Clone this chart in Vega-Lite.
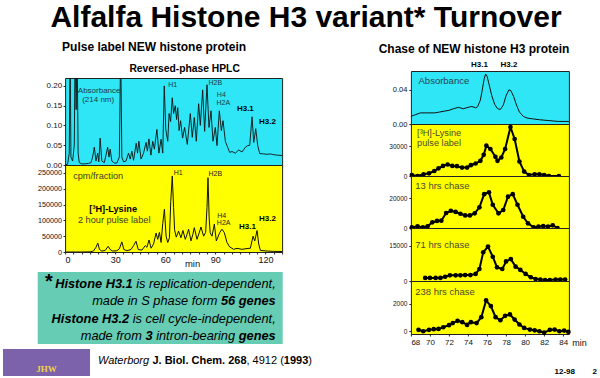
{
 "$schema": "https://vega.github.io/schema/vega-lite/v6.json",
 "background": "white",
 "padding": {"left": 3, "top": 3, "right": 0, "bottom": 0},
 "config": {
  "font": "Liberation Sans",
  "view": {"stroke": "#222", "strokeWidth": 1},
  "axis": {"labelFont": "Liberation Sans", "labelFontSize": 8.5, "labelColor": "#111", "tickColor": "#222", "domain": false, "grid": false, "tickSize": 2, "labelPadding": 2, "labelOverlap": false, "titleFont": "Liberation Sans", "titleFontWeight": "normal", "titleFontSize": 9, "titleColor": "#111"},
  "title": {"font": "Liberation Sans", "color": "#000"}
 },
 "datasets": {
  "absL": [{"m":0,"v":0},{"m":1.5,"v":0.002},{"m":2.5,"v":0.03},{"m":3,"v":0.3},{"m":3.5,"v":0.02},{"m":4.5,"v":0.01},{"m":5.5,"v":0.05},{"m":6,"v":0.3},{"m":6.6,"v":0.14},{"m":7.2,"v":0.3},{"m":7.8,"v":0.03},{"m":8.5,"v":0.006},{"m":10,"v":0.003},{"m":12,"v":0.003},{"m":14,"v":0.004},{"m":15.5,"v":0.006},{"m":16.5,"v":0.02},{"m":17.5,"v":0.045},{"m":18.5,"v":0.01},{"m":19.5,"v":0.03},{"m":20.2,"v":0.008},{"m":21,"v":0.068},{"m":22,"v":0.01},{"m":23.5,"v":0.006},{"m":24.5,"v":0.025},{"m":25.5,"v":0.045},{"m":26.3,"v":0.02},{"m":27,"v":0.04},{"m":28,"v":0.01},{"m":29.5,"v":0.005},{"m":31,"v":0.005},{"m":32.5,"v":0.02},{"m":33.3,"v":0.3},{"m":34,"v":0.02},{"m":35,"v":0.008},{"m":36.5,"v":0.01},{"m":38,"v":0.03},{"m":39,"v":0.015},{"m":40,"v":0.035},{"m":41,"v":0.012},{"m":42.6,"v":0.055},{"m":43.4,"v":0.03},{"m":44.2,"v":0.06},{"m":45.5,"v":0.015},{"m":47,"v":0.03},{"m":48.5,"v":0.057},{"m":49.3,"v":0.035},{"m":50.2,"v":0.066},{"m":51.4,"v":0.025},{"m":52.5,"v":0.06},{"m":53.5,"v":0.04},{"m":55,"v":0.09},{"m":56.2,"v":0.03},{"m":57.5,"v":0.065},{"m":58.5,"v":0.03},{"m":59.4,"v":0.2},{"m":60.3,"v":0.09},{"m":61.5,"v":0.06},{"m":62.3,"v":0.13},{"m":63.2,"v":0.11},{"m":64.2,"v":0.17},{"m":65,"v":0.13},{"m":66,"v":0.15},{"m":66.8,"v":0.115},{"m":67.5,"v":0.145},{"m":68.3,"v":0.087},{"m":69.2,"v":0.112},{"m":70.4,"v":0.068},{"m":71.6,"v":0.095},{"m":73.2,"v":0.052},{"m":75,"v":0.13},{"m":76.2,"v":0.07},{"m":77.4,"v":0.12},{"m":78.6,"v":0.06},{"m":80,"v":0.155},{"m":81,"v":0.1},{"m":82.4,"v":0.19},{"m":83.6,"v":0.085},{"m":85,"v":0.203},{"m":86.2,"v":0.095},{"m":87.4,"v":0.137},{"m":88.6,"v":0.06},{"m":90,"v":0.095},{"m":91,"v":0.049},{"m":92.4,"v":0.137},{"m":93.6,"v":0.087},{"m":94.6,"v":0.112},{"m":96,"v":0.06},{"m":97,"v":0.049},{"m":98.6,"v":0.032},{"m":100,"v":0.034},{"m":102,"v":0.03},{"m":104,"v":0.038},{"m":106,"v":0.033},{"m":108,"v":0.045},{"m":109.4,"v":0.049},{"m":110.6,"v":0.05},{"m":112,"v":0.122},{"m":113,"v":0.057},{"m":114.2,"v":0.092},{"m":115.4,"v":0.049},{"m":116.6,"v":0.029},{"m":119,"v":0.028},{"m":121,"v":0.027},{"m":123,"v":0.028},{"m":125,"v":0.026},{"m":127,"v":0.025},{"m":130,"v":0.024}],
  "cpmL": [{"m":0,"v":0},{"m":10,"v":0},{"m":15,"v":500},{"m":17,"v":3000},{"m":18.5,"v":15000},{"m":19.6,"v":28000},{"m":20.6,"v":8000},{"m":22,"v":3000},{"m":24,"v":5000},{"m":25.8,"v":18000},{"m":27,"v":8000},{"m":28.5,"v":3000},{"m":31,"v":4000},{"m":32.5,"v":10000},{"m":34,"v":32000},{"m":35.2,"v":8000},{"m":37,"v":4000},{"m":39.5,"v":8000},{"m":41,"v":20000},{"m":42.5,"v":34000},{"m":43.8,"v":8000},{"m":46,"v":6000},{"m":48,"v":20000},{"m":49,"v":15000},{"m":50.3,"v":38000},{"m":51.5,"v":12000},{"m":53,"v":25000},{"m":54.5,"v":60000},{"m":55.5,"v":40000},{"m":56.5,"v":62000},{"m":57.5,"v":30000},{"m":58.5,"v":90000},{"m":59.5,"v":135000},{"m":60.5,"v":50000},{"m":61.5,"v":30000},{"m":62.5,"v":45000},{"m":63.3,"v":160000},{"m":64.2,"v":240000},{"m":65,"v":140000},{"m":65.6,"v":70000},{"m":66.6,"v":47000},{"m":68,"v":66000},{"m":69.4,"v":45000},{"m":70.6,"v":68000},{"m":72,"v":40000},{"m":73,"v":55000},{"m":74,"v":72000},{"m":75.4,"v":35000},{"m":76.5,"v":55000},{"m":77.4,"v":77000},{"m":79,"v":40000},{"m":80.3,"v":60000},{"m":81.4,"v":79000},{"m":83,"v":50000},{"m":84.2,"v":62000},{"m":85,"v":140000},{"m":85.6,"v":235000},{"m":86.3,"v":110000},{"m":86.9,"v":61000},{"m":88,"v":50000},{"m":89.4,"v":88000},{"m":90.6,"v":35000},{"m":92.6,"v":61000},{"m":94,"v":72000},{"m":95.4,"v":61000},{"m":97,"v":30000},{"m":98.6,"v":16000},{"m":101,"v":8400},{"m":103,"v":11600},{"m":106,"v":8400},{"m":109,"v":11000},{"m":111,"v":12000},{"m":112.6,"v":50000},{"m":113.6,"v":35000},{"m":115,"v":68000},{"m":116,"v":25000},{"m":117,"v":5000},{"m":121,"v":3000},{"m":125,"v":2000},{"m":130,"v":1500}],
  "absR": [{"m":68,"v":0.009},{"m":68.5,"v":0.011},{"m":69,"v":0.013},{"m":69.5,"v":0.013},{"m":70,"v":0.013},{"m":70.5,"v":0.013},{"m":71,"v":0.014},{"m":71.5,"v":0.015},{"m":72,"v":0.016},{"m":72.5,"v":0.018},{"m":73,"v":0.0195},{"m":73.5,"v":0.0178},{"m":74,"v":0.0195},{"m":74.4,"v":0.0205},{"m":74.8,"v":0.019},{"m":75,"v":0.02},{"m":75.3,"v":0.028},{"m":75.5,"v":0.04},{"m":75.7,"v":0.053},{"m":75.85,"v":0.0585},{"m":76,"v":0.056},{"m":76.2,"v":0.047},{"m":76.5,"v":0.033},{"m":76.8,"v":0.023},{"m":77.1,"v":0.018},{"m":77.4,"v":0.017},{"m":77.7,"v":0.022},{"m":78,"v":0.033},{"m":78.3,"v":0.04},{"m":78.5,"v":0.039},{"m":78.8,"v":0.032},{"m":79.1,"v":0.022},{"m":79.4,"v":0.014},{"m":79.8,"v":0.009},{"m":80.2,"v":0.007},{"m":80.8,"v":0.006},{"m":81.5,"v":0.005},{"m":82.5,"v":0.004},{"m":83.5,"v":0.003},{"m":84.6,"v":0.003}],
  "pulse": [{"m":68.1,"v":1000},{"m":68.7,"v":0},{"m":69.33,"v":1700},{"m":69.9,"v":2700},{"m":70.46,"v":5000},{"m":70.9,"v":7700},{"m":71.37,"v":10100},{"m":71.86,"v":11500},{"m":72.35,"v":10100},{"m":72.84,"v":9800},{"m":73.37,"v":8400},{"m":73.9,"v":8400},{"m":74.3,"v":10800},{"m":74.8,"v":12500},{"m":75.3,"v":15200},{"m":75.65,"v":21200},{"m":75.93,"v":30300},{"m":76.35,"v":27000},{"m":76.88,"v":19200},{"m":77.1,"v":15200},{"m":77.5,"v":18500},{"m":77.9,"v":27000},{"m":78.46,"v":49000},{"m":78.9,"v":37000},{"m":79.4,"v":14500},{"m":79.9,"v":4400},{"m":80.4,"v":1000},{"m":81,"v":1700},{"m":81.5,"v":1700},{"m":82,"v":1000},{"m":82.5,"v":0},{"m":83.55,"v":0}],
  "h13": [{"m":68.1,"v":400},{"m":68.7,"v":1100},{"m":69.26,"v":400},{"m":69.75,"v":1100},{"m":70.25,"v":3800},{"m":70.74,"v":4700},{"m":71.2,"v":4900},{"m":71.7,"v":10000},{"m":72.2,"v":11500},{"m":72.7,"v":10700},{"m":73.2,"v":9500},{"m":73.7,"v":8400},{"m":74.2,"v":8400},{"m":74.7,"v":9800},{"m":75.2,"v":13800},{"m":75.7,"v":22600},{"m":76.2,"v":23800},{"m":76.6,"v":15500},{"m":77.2,"v":9800},{"m":77.7,"v":12000},{"m":78.2,"v":20900},{"m":78.7,"v":22600},{"m":79.2,"v":15500},{"m":79.8,"v":7500},{"m":80.3,"v":3100},{"m":80.9,"v":400},{"m":81.4,"v":900},{"m":81.9,"v":1300},{"m":82.4,"v":900},{"m":82.9,"v":1800},{"m":83.4,"v":0}],
  "h71": [{"m":69.5,"v":1300},{"m":70,"v":1300},{"m":70.6,"v":1300},{"m":71.1,"v":1300},{"m":71.6,"v":1800},{"m":72.1,"v":2400},{"m":72.7,"v":2400},{"m":73.2,"v":2400},{"m":73.7,"v":2500},{"m":74.25,"v":2500},{"m":74.8,"v":3000},{"m":75.2,"v":5100},{"m":75.6,"v":12200},{"m":76.1,"v":14600},{"m":76.6,"v":10300},{"m":77.05,"v":5800},{"m":77.6,"v":5100},{"m":78,"v":8300},{"m":78.5,"v":9300},{"m":79,"v":6100},{"m":79.5,"v":4700},{"m":80.05,"v":3000},{"m":80.6,"v":1600},{"m":81.1,"v":800},{"m":81.6,"v":600},{"m":82.1,"v":400},{"m":82.6,"v":400},{"m":83.2,"v":600},{"m":83.7,"v":600},{"m":84.2,"v":600}],
  "h238": [{"m":68.8,"v":100},{"m":69.3,"v":0},{"m":69.9,"v":100},{"m":70.4,"v":150},{"m":70.9,"v":170},{"m":71.4,"v":290},{"m":72,"v":440},{"m":72.4,"v":590},{"m":72.9,"v":760},{"m":73.4,"v":660},{"m":73.9,"v":460},{"m":74.3,"v":660},{"m":74.9,"v":590},{"m":75.4,"v":1020},{"m":75.9,"v":2240},{"m":76.4,"v":1830},{"m":76.9,"v":1020},{"m":77.4,"v":800},{"m":77.9,"v":1120},{"m":78.4,"v":1220},{"m":78.9,"v":850},{"m":79.4,"v":490},{"m":79.9,"v":240},{"m":80.5,"v":120},{"m":81,"v":70},{"m":81.5,"v":0},{"m":82,"v":-100},{"m":82.6,"v":100},{"m":83.1,"v":120},{"m":83.6,"v":0},{"m":84.1,"v":50},{"m":84.55,"v":-50}]
 },
 "title": {"text": "Alfalfa Histone H3 variant* Turnover", "fontSize": 30, "fontWeight": "bold", "anchor": "middle", "frame": "bounds", "dx": 6, "offset": 8},
 "spacing": 1,
 "vconcat": [
  {
   "spacing": 32.7,
   "hconcat": [
    {"width": 1, "height": 1, "data": {"values": []}, "mark": "point", "encoding": {}, "view": {"stroke": null}},
    {
     "columns": 2, "align": "none", "spacing": 94.2,
     "concat": [
      {
       "title": {"text": "Pulse label NEW histone protein", "fontSize": 12, "fontWeight": "bold", "anchor": "middle", "frame": "bounds", "dx": -6, "offset": 9},
       "columns": 1, "align": "none", "spacing": 4,
       "concat": [
        {
         "spacing": -1.6,
         "hconcat": [
          {"width": 1, "height": 1, "data": {"values": []}, "mark": "point", "encoding": {}, "view": {"stroke": null}},
          {
           "spacing": 0, "bounds": "flush",
           "vconcat": [
            {"width": 1, "height": 7, "data": {"values": []}, "mark": "point", "encoding": {}, "view": {"stroke": null}},
            {
             "width": 217, "height": 87,
             "view": {"fill": "#2ee6f5", "stroke": "#222"},
             "title": {"text": "Reversed-phase HPLC", "fontSize": 10.3, "fontWeight": "bold", "anchor": "middle", "frame": "group", "dx": 11, "offset": 4},
             "layer": [
              {"data": {"name": "absL"}, "mark": {"type": "line", "color": "#111", "strokeWidth": 0.9, "clip": true},
               "encoding": {
                "x": {"field": "m", "type": "quantitative", "scale": {"domain": [0, 130], "nice": false, "zero": false}, "axis": {"values": [0,5,10,15,20,25,30,35,40,45,50,55,60,65,70,75,80,85,90,95,100,105,110,115,120,125,130], "tickCount": 60, "labels": false, "title": null, "tickSize": 2}},
                "y": {"field": "v", "type": "quantitative", "scale": {"domain": [0, 0.22], "nice": false}, "axis": {"values": [0, 0.05, 0.1, 0.15, 0.2], "tickCount": 20, "format": ".2f", "title": null, "labelFontSize": 8, "labelPadding": 1.5}}
               }},
              {"data": {"values": [{"t": "Absorbance", "m": 20.4, "v": 0.188}, {"t": "(214 nm)", "m": 19.8, "v": 0.165}]},
               "mark": {"type": "text", "fontSize": 8, "color": "#1e3c48"},
               "encoding": {"x": {"field": "m", "type": "quantitative"}, "y": {"field": "v", "type": "quantitative"}, "text": {"field": "t"}}},
              {"data": {"values": [{"t": "H1", "m": 64.5, "v": 0.2016}, {"t": "H2B", "m": 90, "v": 0.207}, {"t": "H4", "m": 93.6, "v": 0.1775}, {"t": "H2A", "m": 94.8, "v": 0.158}]},
               "mark": {"type": "text", "fontSize": 7, "color": "#1e3c48"},
               "encoding": {"x": {"field": "m", "type": "quantitative"}, "y": {"field": "v", "type": "quantitative"}, "text": {"field": "t"}}},
              {"data": {"values": [{"t": "H3.1", "m": 108, "v": 0.142}, {"t": "H3.2", "m": 121.2, "v": 0.108}]},
               "mark": {"type": "text", "fontSize": 8, "fontWeight": "bold", "color": "#000"},
               "encoding": {"x": {"field": "m", "type": "quantitative"}, "y": {"field": "v", "type": "quantitative"}, "text": {"field": "t"}}}
             ]
            },
            {
             "width": 217, "height": 87,
             "view": {"fill": "#ffff00", "stroke": "#222"},
             "layer": [
              {"data": {"name": "cpmL"}, "mark": {"type": "line", "color": "#111", "strokeWidth": 1, "clip": true},
               "encoding": {
                "x": {"field": "m", "type": "quantitative", "scale": {"domain": [0, 130], "nice": false, "zero": false}, "axis": {"values": [0,5,10,15,20,25,30,35,40,45,50,55,60,65,70,75,80,85,90,95,100,105,110,115,120,125,130], "tickCount": 60, "labelExpr": "datum.value % 30 === 0 ? datum.label : ''", "labelFontSize": 9, "labelPadding": 1, "title": "min", "titleX": 127, "titleY": 6, "titleAlign": "center", "titleBaseline": "top", "titleFontSize": 9.5}},
                "y": {"field": "v", "type": "quantitative", "scale": {"domain": [0, 275000], "nice": false}, "axis": {"values": [0, 50000, 100000, 150000, 200000, 250000], "tickCount": 20, "format": "d", "title": null, "labelFontSize": 7.2, "labelPadding": 1.5}}
               }},
              {"data": {"values": [{"t": "cpm/fraction", "m": 19.8, "v": 241000}, {"t": "2 hour pulse label", "m": 29.4, "v": 102000}]},
               "mark": {"type": "text", "fontSize": 9.2, "color": "#3a3a2a"},
               "encoding": {"x": {"field": "m", "type": "quantitative"}, "y": {"field": "v", "type": "quantitative"}, "text": {"field": "t"}}},
              {"data": {"values": [{"t": "[³H]-Lysine", "m": 28.8, "v": 136000}]},
               "mark": {"type": "text", "fontSize": 9.2, "fontWeight": "bold", "color": "#000"},
               "encoding": {"x": {"field": "m", "type": "quantitative"}, "y": {"field": "v", "type": "quantitative"}, "text": {"field": "t"}}},
              {"data": {"values": [{"t": "H1", "m": 67.8, "v": 250000}, {"t": "H2B", "m": 90, "v": 246500}, {"t": "H4", "m": 93.8, "v": 115000}, {"t": "H2A", "m": 95, "v": 91000}]},
               "mark": {"type": "text", "fontSize": 7, "color": "#222"},
               "encoding": {"x": {"field": "m", "type": "quantitative"}, "y": {"field": "v", "type": "quantitative"}, "text": {"field": "t"}}},
              {"data": {"values": [{"t": "H3.1", "m": 109.2, "v": 78000}, {"t": "H3.2", "m": 121.2, "v": 104000}]},
               "mark": {"type": "text", "fontSize": 8, "fontWeight": "bold", "color": "#000"},
               "encoding": {"x": {"field": "m", "type": "quantitative"}, "y": {"field": "v", "type": "quantitative"}, "text": {"field": "t"}}}
             ]
            }
           ]
          }
         ]
        },
        {
         "width": 245, "height": 72,
         "view": {"fill": "#66ccb3", "stroke": null},
         "layer": [
          {"data": {"values": [{"line": 1, "t": "is replication-dependent,"}]}, "mark": {"type": "text", "x": "width", "dx": -7, "align": "right", "baseline": "middle", "dy": 2, "fontSize": 12.8, "fontStyle": "italic", "color": "#000"},
           "encoding": {"y": {"field": "line", "type": "ordinal", "scale": {"type": "point", "domain": [1, 2, 3, 4], "padding": 0.6}, "axis": null}, "text": {"field": "t"}}},
          {"data": {"values": [{"line": 1, "t": "Histone H3.1"}]}, "mark": {"type": "text", "x": "width", "dx": -150, "align": "right", "baseline": "middle", "dy": 2, "fontSize": 12.8, "fontStyle": "italic", "fontWeight": "bold", "color": "#000"},
           "encoding": {"y": {"field": "line", "type": "ordinal", "axis": null}, "text": {"field": "t"}}},
          {"data": {"values": [{"line": 1, "t": "*"}]}, "mark": {"type": "text", "x": "width", "dx": -230, "align": "right", "baseline": "middle", "dy": 0, "fontSize": 20, "fontWeight": "bold", "color": "#000"},
           "encoding": {"y": {"field": "line", "type": "ordinal", "axis": null}, "text": {"field": "t"}}},
          {"data": {"values": [{"line": 2, "t": "56 genes"}]}, "mark": {"type": "text", "x": "width", "dx": -7, "align": "right", "baseline": "middle", "dy": 2, "fontSize": 12.8, "fontStyle": "italic", "fontWeight": "bold", "color": "#000"},
           "encoding": {"y": {"field": "line", "type": "ordinal", "axis": null}, "text": {"field": "t"}}},
          {"data": {"values": [{"line": 2, "t": "made in S phase form"}]}, "mark": {"type": "text", "x": "width", "dx": -65.3, "align": "right", "baseline": "middle", "dy": 2, "fontSize": 12.8, "fontStyle": "italic", "color": "#000"},
           "encoding": {"y": {"field": "line", "type": "ordinal", "axis": null}, "text": {"field": "t"}}},
          {"data": {"values": [{"line": 3, "t": "is cell cycle-independent,"}]}, "mark": {"type": "text", "x": "width", "dx": -7, "align": "right", "baseline": "middle", "dy": 2, "fontSize": 12.8, "fontStyle": "italic", "color": "#000"},
           "encoding": {"y": {"field": "line", "type": "ordinal", "axis": null}, "text": {"field": "t"}}},
          {"data": {"values": [{"line": 3, "t": "Histone H3.2"}]}, "mark": {"type": "text", "x": "width", "dx": -153.6, "align": "right", "baseline": "middle", "dy": 2, "fontSize": 12.8, "fontStyle": "italic", "fontWeight": "bold", "color": "#000"},
           "encoding": {"y": {"field": "line", "type": "ordinal", "axis": null}, "text": {"field": "t"}}},
          {"data": {"values": [{"line": 4, "t": "genes"}]}, "mark": {"type": "text", "x": "width", "dx": -7, "align": "right", "baseline": "middle", "dy": 2, "fontSize": 12.8, "fontStyle": "italic", "fontWeight": "bold", "color": "#000"},
           "encoding": {"y": {"field": "line", "type": "ordinal", "axis": null}, "text": {"field": "t"}}},
          {"data": {"values": [{"line": 4, "t": "intron-bearing"}]}, "mark": {"type": "text", "x": "width", "dx": -47.6, "align": "right", "baseline": "middle", "dy": 2, "fontSize": 12.8, "fontStyle": "italic", "color": "#000"},
           "encoding": {"y": {"field": "line", "type": "ordinal", "axis": null}, "text": {"field": "t"}}},
          {"data": {"values": [{"line": 4, "t": "3"}]}, "mark": {"type": "text", "x": "width", "dx": -130.1, "align": "right", "baseline": "middle", "dy": 2, "fontSize": 12.8, "fontStyle": "italic", "fontWeight": "bold", "color": "#000"},
           "encoding": {"y": {"field": "line", "type": "ordinal", "axis": null}, "text": {"field": "t"}}},
          {"data": {"values": [{"line": 4, "t": "made from"}]}, "mark": {"type": "text", "x": "width", "dx": -140.8, "align": "right", "baseline": "middle", "dy": 2, "fontSize": 12.8, "fontStyle": "italic", "color": "#000"},
           "encoding": {"y": {"field": "line", "type": "ordinal", "axis": null}, "text": {"field": "t"}}}
         ]
        }
       ]
      },
      {
       "title": {"text": "Chase of NEW histone H3 protein", "fontSize": 12, "fontWeight": "bold", "anchor": "middle", "frame": "bounds", "dx": -13.5, "offset": 4.5},
       "spacing": 0, "bounds": "flush",
       "vconcat": [
        {
         "width": 158, "height": 53,
         "view": {"fill": "#2ee6f5", "stroke": "#222"},
         "layer": [
          {"data": {"name": "absR"}, "mark": {"type": "line", "color": "#111", "strokeWidth": 1},
           "encoding": {
            "x": {"field": "m", "type": "quantitative", "scale": {"domain": [68, 84.6], "nice": false, "zero": false}, "axis": {"values": [68,70,72,74,76,78,80,82,84], "tickCount": 30, "labels": false, "title": null}},
            "y": {"field": "v", "type": "quantitative", "scale": {"domain": [0, 0.062], "nice": false}, "axis": {"values": [0, 0.04], "tickCount": 10, "format": ".2f", "title": null, "labelFontSize": 7.5}}
           }},
          {"data": {"values": [{"t": "Absorbance", "m": 68.8, "v": 0.0503}]}, "mark": {"type": "text", "align": "left", "fontSize": 9.5, "color": "#2a4050"},
           "encoding": {"x": {"field": "m", "type": "quantitative"}, "y": {"field": "v", "type": "quantitative"}, "text": {"field": "t"}}},
          {"data": {"values": [{"t": "H3.1", "m": 75.2, "v": 0.069}, {"t": "H3.2", "m": 78.3, "v": 0.069}]}, "mark": {"type": "text", "fontSize": 8, "fontWeight": "bold", "color": "#000"},
           "encoding": {"x": {"field": "m", "type": "quantitative"}, "y": {"field": "v", "type": "quantitative"}, "text": {"field": "t"}}}
         ]
        },
        {
         "width": 158, "height": 52,
         "view": {"fill": "#ffff00", "stroke": "#222"},
         "layer": [
          {"data": {"name": "pulse"}, "mark": {"type": "line", "color": "#000", "strokeWidth": 2, "point": {"filled": true, "size": 22, "color": "#000"}},
           "encoding": {
            "x": {"field": "m", "type": "quantitative", "scale": {"domain": [68, 84.6], "nice": false, "zero": false}, "axis": {"values": [68,70,72,74,76,78,80,82,84], "tickCount": 30, "labels": false, "title": null}},
            "y": {"field": "v", "type": "quantitative", "scale": {"domain": [0, 52000], "nice": false}, "axis": {"values": [0, 30000], "tickCount": 10, "format": "d", "title": null, "labelFontSize": 6.5}}
           }},
          {"data": {"values": [{"t": "[³H]-Lysine", "m": 68.65, "v": 43000}, {"t": "pulse label", "m": 68.65, "v": 33000}]}, "mark": {"type": "text", "align": "left", "fontSize": 9.2, "color": "#4a4a30"},
           "encoding": {"x": {"field": "m", "type": "quantitative"}, "y": {"field": "v", "type": "quantitative"}, "text": {"field": "t"}}}
         ]
        },
        {
         "width": 158, "height": 52,
         "view": {"fill": "#ffff00", "stroke": "#222"},
         "layer": [
          {"data": {"name": "h13"}, "mark": {"type": "line", "color": "#000", "strokeWidth": 2, "point": {"filled": true, "size": 22, "color": "#000"}},
           "encoding": {
            "x": {"field": "m", "type": "quantitative", "scale": {"domain": [68, 84.6], "nice": false, "zero": false}, "axis": {"values": [68,70,72,74,76,78,80,82,84], "tickCount": 30, "labels": false, "title": null}},
            "y": {"field": "v", "type": "quantitative", "scale": {"domain": [0, 34700], "nice": false}, "axis": {"values": [0, 20000], "tickCount": 10, "format": "d", "title": null, "labelFontSize": 6.5}}
           }},
          {"data": {"values": [{"t": "13 hrs chase", "m": 68.45, "v": 27800}]}, "mark": {"type": "text", "align": "left", "fontSize": 9.5, "color": "#4a4a30"},
           "encoding": {"x": {"field": "m", "type": "quantitative"}, "y": {"field": "v", "type": "quantitative"}, "text": {"field": "t"}}}
         ]
        },
        {
         "width": 158, "height": 53,
         "view": {"fill": "#ffff00", "stroke": "#222"},
         "layer": [
          {"data": {"name": "h71"}, "mark": {"type": "line", "color": "#000", "strokeWidth": 2, "point": {"filled": true, "size": 22, "color": "#000"}},
           "encoding": {
            "x": {"field": "m", "type": "quantitative", "scale": {"domain": [68, 84.6], "nice": false, "zero": false}, "axis": {"values": [68,70,72,74,76,78,80,82,84], "tickCount": 30, "labels": false, "title": null}},
            "y": {"field": "v", "type": "quantitative", "scale": {"domain": [0, 22500], "nice": false}, "axis": {"values": [0, 15000], "tickCount": 10, "format": "d", "title": null, "labelFontSize": 6.5}}
           }},
          {"data": {"values": [{"t": "71 hrs chase", "m": 68.45, "v": 15300}]}, "mark": {"type": "text", "align": "left", "fontSize": 9.5, "color": "#4a4a30"},
           "encoding": {"x": {"field": "m", "type": "quantitative"}, "y": {"field": "v", "type": "quantitative"}, "text": {"field": "t"}}}
         ]
        },
        {
         "width": 158, "height": 53,
         "view": {"fill": "#ffff00", "stroke": "#222"},
         "layer": [
          {"data": {"name": "h238"}, "mark": {"type": "line", "color": "#000", "strokeWidth": 2, "point": {"filled": true, "size": 22, "color": "#000"}},
           "encoding": {
            "x": {"field": "m", "type": "quantitative", "scale": {"domain": [68, 84.6], "nice": false, "zero": false}, "axis": {"values": [68,70,72,74,76,78,80,82,84], "tickCount": 30, "format": "d", "labelFontSize": 8, "labelPadding": 2, "title": "min", "titleX": 168, "titleY": 4, "titleAlign": "center", "titleBaseline": "top", "titleFontSize": 9}},
            "y": {"field": "v", "type": "quantitative", "scale": {"domain": [-200, 3650], "nice": false, "zero": false}, "axis": {"values": [0, 2000], "tickCount": 10, "format": "d", "title": null, "labelFontSize": 6.5}}
           }},
          {"data": {"values": [{"t": "238 hrs chase", "m": 68.45, "v": 2830}]}, "mark": {"type": "text", "align": "left", "fontSize": 9.5, "color": "#4a4a30"},
           "encoding": {"x": {"field": "m", "type": "quantitative"}, "y": {"field": "v", "type": "quantitative"}, "text": {"field": "t"}}}
         ]
        }
       ]
      }
     ]
    }
   ]
  },
  {
   "spacing": 8,
   "hconcat": [
    {
     "width": 87, "height": 27,
     "view": {"fill": "#7b62aa", "stroke": null},
     "layer": [
      {"data": {"values": [{"t": "JHW"}]}, "mark": {"type": "text", "font": "Liberation Serif", "fontSize": 9, "fontWeight": "bold", "color": "#f2d24a", "dy": 6},
       "encoding": {"text": {"field": "t"}}}
     ]
    },
    {
     "width": 499, "height": 27,
     "view": {"stroke": null},
     "layer": [
      {"data": {"values": [{"t": "Waterborg"}]}, "mark": {"type": "text", "x": 0, "dx": 0, "dy": -2, "align": "left", "baseline": "middle", "fontSize": 11, "fontStyle": "italic", "color": "#000"}, "encoding": {"text": {"field": "t"}}},
      {"data": {"values": [{"t": "J. Biol. Chem. 268"}]}, "mark": {"type": "text", "x": 0, "dx": 54.4, "dy": -2, "align": "left", "baseline": "middle", "fontSize": 11, "fontWeight": "bold", "color": "#000"}, "encoding": {"text": {"field": "t"}}},
      {"data": {"values": [{"t": ", 4912 ("}]}, "mark": {"type": "text", "x": 0, "dx": 148.5, "dy": -2, "align": "left", "baseline": "middle", "fontSize": 11, "color": "#000"}, "encoding": {"text": {"field": "t"}}},
      {"data": {"values": [{"t": "1993"}]}, "mark": {"type": "text", "x": 0, "dx": 185.8, "dy": -2, "align": "left", "baseline": "middle", "fontSize": 11, "fontWeight": "bold", "color": "#000"}, "encoding": {"text": {"field": "t"}}},
      {"data": {"values": [{"t": ")"}]}, "mark": {"type": "text", "x": 0, "dx": 210.3, "dy": -2, "align": "left", "baseline": "middle", "fontSize": 11, "color": "#000"}, "encoding": {"text": {"field": "t"}}},
      {"data": {"values": [{"t": "12-98"}]}, "mark": {"type": "text", "x": "width", "dx": -22, "dy": 9, "align": "right", "baseline": "middle", "fontSize": 8, "fontWeight": "bold", "color": "#000"}, "encoding": {"text": {"field": "t"}}},
      {"data": {"values": [{"t": "2"}]}, "mark": {"type": "text", "x": "width", "dx": 0, "dy": 9, "align": "right", "baseline": "middle", "fontSize": 8, "fontWeight": "bold", "color": "#000"}, "encoding": {"text": {"field": "t"}}}
     ]
    }
   ]
  }
 ]
}
